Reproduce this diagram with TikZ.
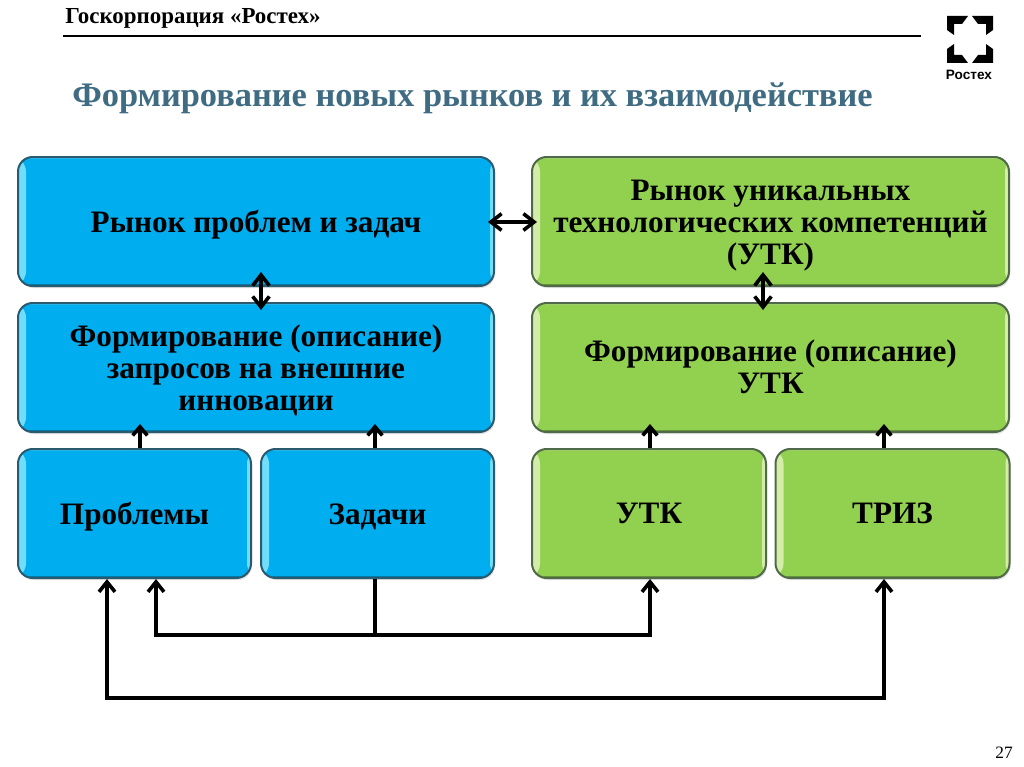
\documentclass[tikz,border=0pt]{standalone}
\usepackage{fontspec}
\setmainfont{Liberation Serif}
\setsansfont{Liberation Sans}
\usetikzlibrary{arrows.meta,shadows}
\definecolor{bluefill}{HTML}{00ADEF}
\definecolor{bluelight}{HTML}{6FDDFB}
\definecolor{blueedge}{HTML}{2A5A6E}
\definecolor{greenfill}{HTML}{92D050}
\definecolor{greenlight}{HTML}{D3EDA8}
\definecolor{greenedge}{HTML}{4F6A48}
\definecolor{titleblue}{HTML}{3F6C82}
\newcommand{\cardtext}[2][3.2pt]{\raisebox{-#1}[\height][\depth]{\begin{tabular}{@{}c@{}}#2\end{tabular}}}
\tikzset{
  x=0.75pt,y=-0.75pt,
  card/.style n args={3}{draw=#3,line width=1.5pt,fill=#1,rounded corners=11pt,
    minimum height=96.75pt,align=center,inner sep=0pt,text=black,
    font=\fontsize{23.4}{24}\selectfont\bfseries,
    drop shadow={shadow xshift=0.8pt,shadow yshift=-1.6pt,fill=black!30,opacity=.35},
    path picture={
      \fill[#2] (path picture bounding box.north west) rectangle ([xshift=6pt]path picture bounding box.south west);
      \fill[#2] (path picture bounding box.north east) rectangle ([xshift=-3pt]path picture bounding box.south east);
      \fill[#2!60!#1] (path picture bounding box.north west) rectangle ([yshift=-1.2pt]path picture bounding box.north east);
      \fill[#1!70!black] (path picture bounding box.south west) rectangle ([yshift=1.5pt]path picture bounding box.south east);
    }},
  bluebig/.style={card={bluefill}{bluelight}{blueedge},minimum width=357pt},
  bluesmall/.style={card={bluefill}{bluelight}{blueedge},minimum width=174.75pt},
  greenbig/.style={card={greenfill}{greenlight}{greenedge},minimum width=357.75pt},
  greensmall/.style={card={greenfill}{greenlight}{greenedge},minimum width=175.5pt},
  link/.style={line width=2.5pt,draw=black},
  both/.style={link,{Straight Barb[length=8pt,width=12.5pt,line width=2.7pt]}-{Straight Barb[length=8pt,width=12.5pt,line width=2.7pt]}},
  up/.style={link,-{Straight Barb[length=7.5pt,width=12pt,line width=2.7pt]}},
  upshort/.style={link,line width=2.6pt,-{Straight Barb[length=6.5pt,width=11pt,line width=2.7pt]}},
  header/.style={anchor=west,inner sep=0pt,font=\fontsize{17.2}{20}\selectfont\bfseries},
  pagetitle/.style={anchor=west,inner sep=0pt,text=titleblue,font=\fontsize{25.8}{30}\selectfont\bfseries},
  logoart/.style={fill=black,draw=none}
}
\begin{document}
\begin{tikzpicture}
\useasboundingbox (0,0) rectangle (1024,767);
\fill[white] (0,0) rectangle (1024,767);
\node[header] (head) at (65,18) {Госкорпорация «Ростех»};
\coordinate (ruleL) at (63,36);
\coordinate (ruleR) at (921,36);
\draw[line width=1pt] (ruleL) -- (ruleR);
\node[pagetitle] (title) at (72,98) {Формирование новых рынков и их взаимодействие};
% logo
\fill[logoart] (947,16) -- (968,16) -- (962,24) -- (954,24) -- (954,35) -- (947,30) -- cycle;
\fill[logoart] (993,16) -- (972,16) -- (978,24) -- (986,24) -- (986,35) -- (993,30) -- cycle;
\fill[logoart] (947,63) -- (968,63) -- (962,55) -- (954,55) -- (954,44) -- (947,49) -- cycle;
\fill[logoart] (993,63) -- (972,63) -- (978,55) -- (986,55) -- (986,44) -- (993,49) -- cycle;
\node[inner sep=0pt,font=\sffamily\bfseries\fontsize{10.2}{11}\selectfont] (logotext) at (969,75) {Ростех};
% boxes
\node[bluebig] (A) at (256,221.5) {\cardtext{Рынок проблем и задач}};
\node[bluebig] (B) at (256,367.5) {\cardtext{Формирование (описание)\\запросов на внешние\\инновации}};
\node[bluesmall] (C) at (134.5,513.5) {\cardtext[3.5pt]{Проблемы}};
\node[bluesmall] (D) at (377.5,513.5) {\cardtext[3.5pt]{Задачи}};
\node[greenbig] (E) at (770.5,221.5) {\cardtext{Рынок уникальных\\технологических компетенций\\(УТК)}};
\node[greenbig] (F) at (770.5,367.5) {\cardtext[3pt]{Формирование (описание)\\УТК}};
\node[greensmall] (G) at (649,513.5) {\cardtext[3pt]{УТК}};
\node[greensmall] (H) at (892.5,513.5) {\cardtext[3pt]{ТРИЗ}};
\node[inner sep=0pt,font=\fontsize{13}{15}\selectfont] (page) at (1004,753) {27};
% connectors between cards
\coordinate (abT) at (261,272);
\coordinate (abB) at (261,310);
\draw[both] (abT) -- (abB);
\coordinate (aeL) at (488,222);
\coordinate (aeR) at (537,222);
\draw[both] (aeL) -- (aeR);
\coordinate (efT) at (763,272);
\coordinate (efB) at (763,310);
\draw[both] (efT) -- (efB);
\coordinate (cb) at (140,424);
\coordinate (db) at (375,424);
\coordinate (gf) at (650,424);
\coordinate (hf) at (884,424);
\draw[upshort] (cb |- C.north) -- (cb);
\draw[upshort] (db |- D.north) -- (db);
\draw[upshort] (gf |- G.north) -- (gf);
\draw[upshort] (hf |- H.north) -- (hf);
% lower buses
\coordinate (in1) at (156,635);
\coordinate (mid) at (375,635);
\coordinate (in2) at (650,635);
\coordinate (out1) at (107,698);
\coordinate (out2) at (884,698);
\draw[link] (mid) -- (mid |- D.south);
\draw[up] (in2) -- (in2 |- G.south);
\draw[up] (in1) -- (in1 |- C.south);
\draw[link,line cap=rect] (in1) -- (in2);
\draw[up] (out1) -- (out1 |- C.south);
\draw[up] (out2) -- (out2 |- H.south);
\draw[link,line cap=rect] (out1) -- (out2);
\end{tikzpicture}
\end{document}
